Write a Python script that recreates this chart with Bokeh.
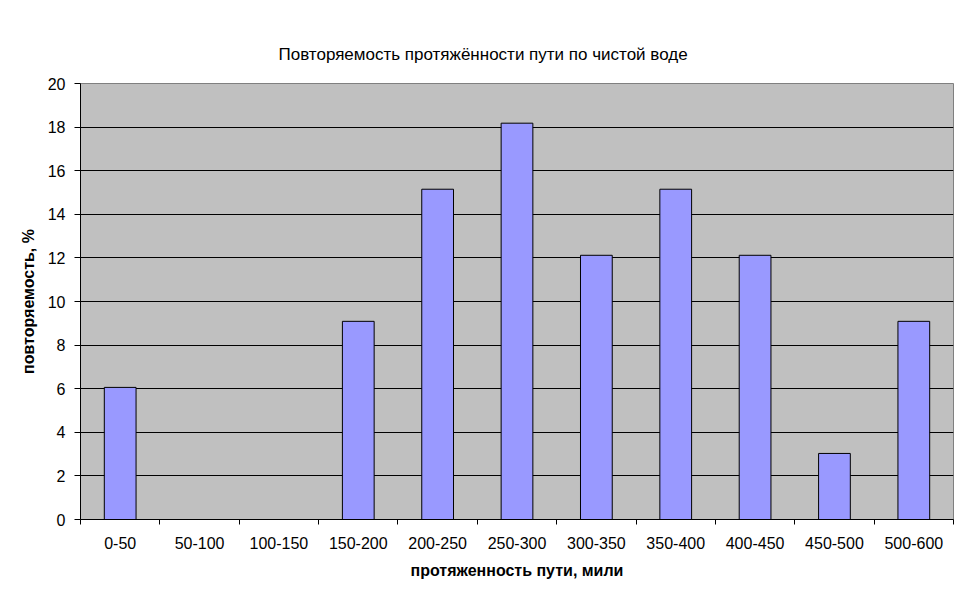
import numpy as np
from bokeh.plotting import figure
from bokeh.models import Range1d, FixedTicker, ColumnDataSource
from bokeh.embed import file_html
from bokeh.resources import INLINE

categories = ["0-50", "50-100", "100-150", "150-200", "200-250", "250-300",
              "300-350", "350-400", "400-450", "450-500", "500-600"]
values = [6.06, 0, 0, 9.09, 15.15, 18.18, 12.12, 15.15, 12.12, 3.03, 9.09]
y_ticks = [0, 2, 4, 6, 8, 10, 12, 14, 16, 18, 20]

title_text = "Повторяемость протяжённости пути по чистой воде"
x_title = "протяженность пути, мили"
y_title = "повторяемость, %"

FONT = "Liberation Sans"
FS = "16px"
n = len(categories)
centers = np.arange(n) + 0.5
bounds = np.arange(n + 1)

W, H = 969, 603
p = figure(width=W, height=H, output_backend="svg", toolbar_location=None,
           x_range=Range1d(0, n), y_range=Range1d(0, 20),
           min_border_left=80, min_border_right=16, min_border_top=83,
           min_border_bottom=84)

p.title.text = title_text
p.title.align = "left"
p.title.offset = 198
p.title.standoff = 40
p.title.text_font = FONT
p.title.text_font_size = "17px"
p.title.text_font_style = "normal"
p.title.text_color = "black"

p.background_fill_color = "#C0C0C0"
p.border_fill_color = "white"
p.outline_line_color = "#808080"
p.outline_line_width = 1

src = ColumnDataSource(dict(x=centers, top=values))
p.vbar(x="x", top="top", width=0.4, bottom=0, source=src,
       fill_color="#9999FF", line_color="black", line_width=1)

# x axis
xa = p.xaxis[0]
xa.ticker = FixedTicker(ticks=list(centers), minor_ticks=list(bounds))
xa.major_label_overrides = {float(c): lab for c, lab in zip(centers, categories)}
xa.major_tick_line_color = None
xa.minor_tick_in = 0
xa.minor_tick_out = 5
xa.minor_tick_line_color = "black"
xa.axis_line_color = "black"
xa.major_label_text_font = FONT
xa.major_label_text_font_size = FS
xa.major_label_text_color = "black"
xa.major_label_standoff = 11
xa.axis_label = x_title
xa.axis_label_text_font = FONT
xa.axis_label_text_font_size = FS
xa.axis_label_text_font_style = "bold"
xa.axis_label_text_color = "black"
xa.axis_label_standoff = 10

# y axis
ya = p.yaxis[0]
ya.ticker = FixedTicker(ticks=y_ticks)
ya.major_tick_in = 0
ya.major_tick_out = 6
ya.minor_tick_line_color = None
ya.axis_line_color = "black"
ya.major_label_text_font = FONT
ya.major_label_text_font_size = FS
ya.major_label_text_color = "black"
ya.major_label_standoff = 9
ya.axis_label = y_title
ya.axis_label_text_font = FONT
ya.axis_label_text_font_size = FS
ya.axis_label_text_font_style = "bold"
ya.axis_label_text_color = "black"
ya.axis_label_standoff = 8

p.xgrid.grid_line_color = None
p.ygrid.grid_line_color = "black"
p.ygrid.grid_line_width = 1
p.ygrid.ticker = FixedTicker(ticks=y_ticks[1:-1])

open("out.html", "w").write(file_html(p, INLINE))
